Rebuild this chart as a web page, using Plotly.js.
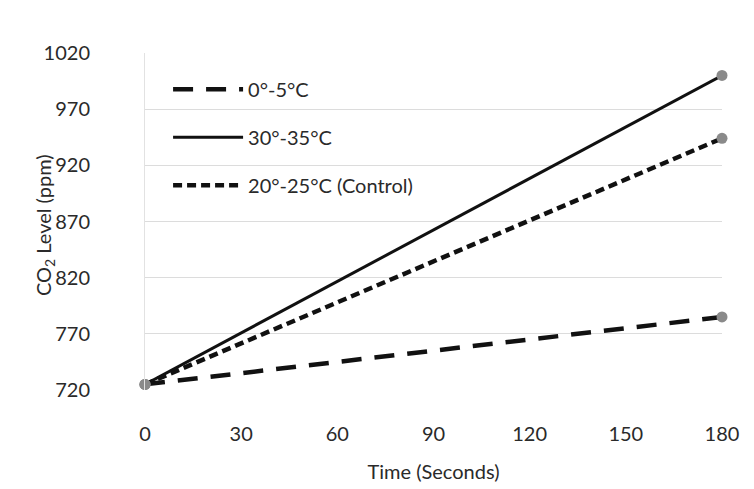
<!DOCTYPE html>
<html>
<head>
<meta charset="utf-8">
<script src="https://cdn.plot.ly/plotly-3.0.1.min.js"></script>
<style>html,body{margin:0;padding:0;background:#fff}#chart{width:754px;height:489px}</style>
</head>
<body>
<div id="chart"></div>
<script>
const timeSeconds = [0, 180];
const seriesNames = ["0°-5°C", "30°-35°C", "20°-25°C (Control)"];
const cold = [725, 785];
const hot = [725, 1000];
const control = [725, 944];
const xTicks = [0, 30, 60, 90, 120, 150, 180];
const yTicks = [720, 770, 820, 870, 920, 970, 1020];

const font = "Lato, 'Open Sans', sans-serif";
const txt = "#2a2a2a";

function lineTrace(name, y, dash, width, grp) {
  return {
    x: timeSeconds, y: y, name: name, type: "scatter", mode: "lines",
    legendgroup: grp,
    line: {color: "#111", width: width, dash: dash},
    cliponaxis: false
  };
}
function markerTrace(y, grp) {
  return {
    x: timeSeconds, y: y, type: "scatter", mode: "markers", legendgroup: grp,
    showlegend: false, marker: {color: "#8a8a8a", size: 11}, cliponaxis: false
  };
}
const data = [
  lineTrace(seriesNames[0], cold, "20px,13px", 4.5, "a"),
  lineTrace(seriesNames[1], hot, "solid", 3, "b"),
  lineTrace(seriesNames[2], control, "9px,5px", 4.5, "c"),
  markerTrace(cold, "a"),
  markerTrace(hot, "b"),
  markerTrace(control, "c")
];
const layout = {
  width: 754, height: 489,
  margin: {l: 145, r: 32, t: 53, b: 99},
  paper_bgcolor: "#fff", plot_bgcolor: "#fff",
  font: {family: font, size: 20, color: txt},
  showlegend: true,
  legend: {x: 0.04, y: 0.95, xanchor: "left", yanchor: "top", bgcolor: "rgba(0,0,0,0)",
           tracegroupgap: 19, itemwidth: 70, traceorder: "grouped",
           font: {family: font, size: 20, color: txt}},
  xaxis: {range: [0, 180], tickvals: xTicks, ticktext: xTicks.map(String),
          showgrid: false, zeroline: false, showline: false, ticks: "",
          ticklabelstandoff: 30,
          title: {text: "Time (Seconds)", font: {family: font, size: 20, color: txt}, standoff: 20}},
  yaxis: {range: [720, 1020], tickvals: yTicks, ticktext: yTicks.map(String),
          showgrid: true, gridcolor: "#dcdcdc", gridwidth: 1, zeroline: false,
          showline: true, linecolor: "#e2e2e2", ticks: "", ticklabelstandoff: 50},
  annotations: [{
    text: "CO<sub>2</sub> Level (ppm)", xref: "paper", yref: "paper",
    x: -0.173, y: 0.49, xanchor: "center", yanchor: "middle", textangle: -90,
    showarrow: false, font: {family: font, size: 20, color: txt}
  }]
};
Plotly.newPlot("chart", data, layout, {displayModeBar: false, staticPlot: true});
</script>
</body>
</html>
